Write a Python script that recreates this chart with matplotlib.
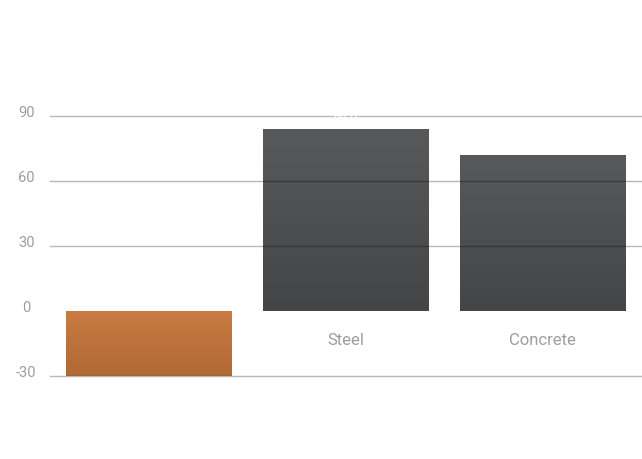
import numpy as np
import matplotlib.pyplot as plt
from matplotlib.colors import LinearSegmentedColormap

plt.rcParams['font.family'] = ['Roboto', 'DejaVu Sans']

# Data
categories = ['Wood', 'Steel', 'Concrete']
values = [-30, 84, 72]
tick_vals = [-30, 0, 30, 60, 90]

# gradient colours (top, bottom) per bar
grad_colors = [('#c97b42', '#b06935'), ('#57595a', '#434547'), ('#57595a', '#434547')]

fig = plt.figure(figsize=(6.42, 4.6), dpi=100)
ax = fig.add_axes([50 / 642, (460 - 377) / 460, 591.5 / 642, 260 / 460])

x = np.arange(len(categories))
bars = ax.bar(x, values, width=0.84, color='none', zorder=2)

# vertical gradient fill for each bar
grad = np.linspace(0, 1, 256).reshape(-1, 1)
for b, (top, bottom) in zip(bars, grad_colors):
    x0, y0 = b.get_x(), b.get_y()
    w, h = b.get_width(), b.get_height()
    ylo, yhi = min(y0, y0 + h), max(y0, y0 + h)
    cmap = LinearSegmentedColormap.from_list('g', [bottom, top])
    ax.imshow(grad, cmap=cmap, aspect='auto', origin='lower',
              extent=(x0, x0 + w, ylo, yhi), zorder=2)

# gridlines drawn over bars (no line at zero)
for t in tick_vals:
    if t != 0:
        ax.axhline(t, color='black', alpha=0.28, linewidth=1, zorder=3, clip_on=False)

# faint white value label above Steel bar
ax.text(x[1], 90, f'{values[1]:.1f}', color='white', ha='center', va='center',
        fontsize=9, zorder=4)

ax.set_xlim(-0.5, len(categories) - 0.5)
ax.set_ylim(-30, 90)
for s in ax.spines.values():
    s.set_visible(False)
ax.set_xticks([])
ax.set_yticks([])

# y tick labels, slightly above lines
for t in tick_vals:
    ax.text(-0.62, t + 2.0, str(t), color='#9e9e9e', ha='center', va='center',
            fontsize=10.5, clip_on=False)

# category labels (first hidden by bar)
for i, c in enumerate(categories):
    if values[i] >= 0:
        ax.text(x[i], -13, c, color='#9e9e9e', ha='center', va='center', fontsize=12)

fig.savefig('out.png', dpi=100)
